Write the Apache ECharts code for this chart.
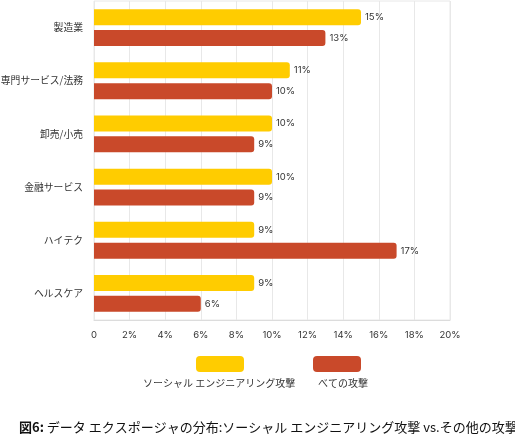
<!DOCTYPE html>
<html>
<head>
<meta charset="UTF-8">
<title>図6</title>
<script src="https://cdn.jsdelivr.net/npm/echarts@6/dist/echarts.min.js"></script>
<style>html,body{margin:0;padding:0;background:#fff;}</style>
</head>
<body>
<div id="main" style="width:515px;height:440px;"></div>
<script type="text/javascript">
var categories = ['製造業', '専門サービス/法務', '卸売/小売', '金融サービス', 'ハイテク', 'ヘルスケア'];
var socialValues = [15, 11, 10, 10, 9, 9];
var otherValues = [13, 10, 9, 9, 17, 6];
var seriesNames = ['ソーシャル エンジニアリング攻撃', 'べての攻撃'];
var xTicks = [0, 2, 4, 6, 8, 10, 12, 14, 16, 18, 20];

var chart = echarts.init(document.getElementById('main'));
var font = '"Noto Sans CJK JP", "Noto Sans", sans-serif';

chart.setOption({
    textStyle: { fontFamily: font },
    title: {
        left: 14,
        top: 416,
        text: '{b|図6:} データ エクスポージャの分布:ソーシャル エンジニアリング攻撃 vs.その他の攻撃',
        textStyle: {
            fontSize: 13,
            fontWeight: 'normal',
            color: '#111',
            fontFamily: font,
            rich: {
                b: { fontWeight: 'bold', fontSize: 13, color: '#111', fontFamily: font }
            }
        }
    },
    grid: {
        left: 94, right: 65, top: 1, bottom: 120,
        outerBoundsMode: 'none',
        containLabel: false,
        show: true, borderColor: '#e8e8e8', borderWidth: 1
    },
    legend: {
        left: 191, top: 351,
        itemWidth: 48, itemHeight: 16, itemGap: 69,
        icon: 'roundRect',
        formatter: function () { return ''; },
        data: seriesNames
    },
    graphic: [
        { type: 'text', left: 143, top: 378, style: { text: seriesNames[0], fontSize: 10, fill: '#333', fontFamily: font } },
        { type: 'text', left: 318, top: 378, style: { text: seriesNames[1], fontSize: 10, fill: '#333', fontFamily: font } }
    ],
    xAxis: {
        type: 'value',
        min: 0, max: 20, interval: 2,
        axisLine: { show: true, lineStyle: { color: '#dcdcdc' } },
        axisTick: { show: false },
        splitLine: { lineStyle: { color: '#e8e8e8' } },
        axisLabel: {
            margin: 10, fontSize: 9.5, color: '#333', fontFamily: 'Inter, sans-serif',
            formatter: function (v) { return xTicks.indexOf(v) === 0 ? '0' : v + '%'; }
        }
    },
    yAxis: {
        type: 'category',
        inverse: true,
        data: categories,
        axisLine: { show: false },
        axisTick: { show: false },
        axisLabel: { margin: 11, fontSize: 9.8, color: '#333' }
    },
    series: [
        {
            name: seriesNames[0], type: 'bar', data: socialValues,
            barWidth: 16, barGap: '30%',
            itemStyle: { color: '#FFCC00', borderRadius: [0, 3, 3, 0] },
            label: { show: true, position: 'right', distance: 4, formatter: '{c}%', fontSize: 9.5, color: '#333', fontFamily: 'Inter, sans-serif' }
        },
        {
            name: seriesNames[1], type: 'bar', data: otherValues,
            barWidth: 16,
            itemStyle: { color: '#C9492A', borderRadius: [0, 3, 3, 0] },
            label: { show: true, position: 'right', distance: 4, formatter: '{c}%', fontSize: 9.5, color: '#333', fontFamily: 'Inter, sans-serif' }
        }
    ]
});
</script>
</body>
</html>
